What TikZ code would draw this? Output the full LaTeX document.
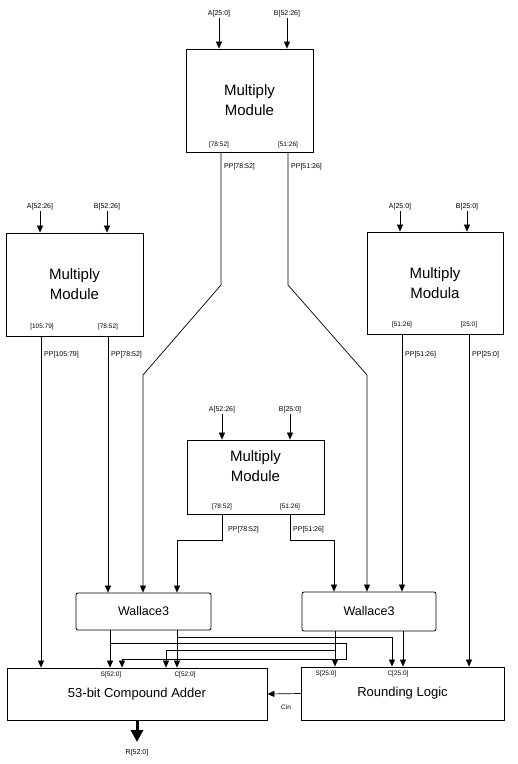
\documentclass[tikz,border=0pt]{standalone}
\usepackage{fontspec}
\setmainfont{Liberation Sans}
\usetikzlibrary{arrows.meta}
\begin{document}
\begin{tikzpicture}[x=1pt,y=-1pt,
  box/.style={draw, line width=0.8pt, inner sep=0pt, align=center},
  wbox/.style={box, rounded corners=2pt},
  arr/.style={line width=0.7pt, -{Triangle[length=7pt,width=6pt]}},
  ln/.style={line width=0.7pt},
  lbl/.style={font=\fontsize{7}{8}\selectfont, inner sep=1pt},
  ilbl/.style={font=\fontsize{6.5}{7.5}\selectfont, inner sep=1pt},
  modtxt/.style={font=\fontsize{15}{20}\selectfont},
  midtxt/.style={font=\fontsize{12.5}{15}\selectfont},
  bigarr/.style={line width=3pt, -{Triangle[length=12pt,width=12pt]}}]
\useasboundingbox (0,0) rectangle (518,764);

% ---------- multiply modules ----------
\node[box,modtxt,minimum width=127pt,minimum height=103pt] (mt) at (249.5,100.5) {Multiply\\Module};
\node[box,modtxt,minimum width=137pt,minimum height=103pt] (ml) at (74.5,284.5) {Multiply\\Module};
\node[box,modtxt,minimum width=136pt,minimum height=102pt] (mr) at (435,283) {Multiply\\Modula};
\node[box,minimum width=137pt,minimum height=74pt] (mm) at (255.5,477) {};
\node[modtxt,align=center] (mmt) at (255.5,466) {Multiply\\Module};

% ---------- input labels ----------
\node[lbl] (ta) at (219,14) {A[25:0]};
\node[lbl] (tb) at (287,14) {B[52:26]};
\node[lbl] (la) at (40,207) {A[52:26]};
\node[lbl] (lb) at (107,207) {B[52:26]};
\node[lbl] (ra) at (400,207) {A[25:0]};
\node[lbl] (rb) at (467,207) {B[25:0]};
\node[lbl] (ma) at (222,410) {A[52:26]};
\node[lbl] (mb) at (290,410) {B[25:0]};

\foreach \l/\m in {ta/mt,tb/mt,la/ml,lb/ml,ra/mr,rb/mr,ma/mm,mb/mm}
  \draw[arr] (\l.south) -- (\l.south |- \m.north);

% ---------- inner output labels ----------
\node[ilbl] (mto1) at (219,145) {[78:52]};
\node[ilbl] (mto2) at (288,145) {[51:26]};
\node[ilbl] (mlo1) at (42,327) {[105:79]};
\node[ilbl] (mlo2) at (108,327) {[78:52]};
\node[ilbl] (mro1) at (402,325) {[51:26]};
\node[ilbl] (mro2) at (469,325) {[25:0]};
\node[ilbl] (mmo1) at (222,507) {[78:52]};
\node[ilbl] (mmo2) at (290,507) {[51:26]};

% ---------- Wallace, adder, rounding ----------
\node[wbox,font=\fontsize{12.5}{15}\selectfont,minimum width=135pt,minimum height=37pt] (wl) at (143.5,611.5) {Wallace3};
\node[wbox,font=\fontsize{12.5}{15}\selectfont,minimum width=134pt,minimum height=39pt] (wr) at (369,611.5) {Wallace3};
\node[box,font=\fontsize{13}{15}\selectfont,minimum width=260pt,minimum height=52pt] (ad) at (137,694) {53-bit Compound Adder};
\node[box,font=\fontsize{13}{15}\selectfont,minimum width=203pt,minimum height=53pt] (rl) at (402.5,693.5) {Rounding Logic};

\node[ilbl] (adl1) at (111,675) {S[52:0]};
\node[ilbl] (adl2) at (185,675) {C[52:0]};
\node[ilbl] (rll1) at (326,674) {S[25:0]};
\node[ilbl] (rll2) at (398,674) {C[25:0]};

% x reference coordinates
\foreach \x in {41,108,110,122,143,166,177,221,222,288,290,334,335,346,367,392,402,403,469}
  \coordinate (x\x) at (\x,0);

% ---------- top module outputs ----------
\coordinate (tL1) at (221,285);
\coordinate (tL2) at (143,375);
\coordinate (tR1) at (288,285);
\coordinate (tR2) at (367,375);
\draw[arr] (mt.south -| x221) -- (tL1) -- (tL2) -- (tL2 |- wl.north);
\draw[arr] (mt.south -| x288) -- (tR1) -- (tR2) -- (tR2 |- wr.north);
\node[lbl,anchor=west] (pt1) at (223,167) {PP[78:52]};
\node[lbl,anchor=west] (pt2) at (290,167) {PP[51:26]};

% ---------- left module outputs ----------
\draw[arr] (ml.south -| x41) -- (ad.north -| x41);
\draw[arr] (ml.south -| x108) -- (wl.north -| x108);
\node[lbl,anchor=west] (pl1) at (43,355) {PP[105:79]};
\node[lbl,anchor=west] (pl2) at (110,355) {PP[78:52]};

% ---------- right module outputs ----------
\draw[arr] (mr.south -| x402) -- (wr.north -| x402);
\draw[arr] (mr.south -| x469) -- (rl.north -| x469);
\node[lbl,anchor=west] (pr1) at (404,355) {PP[51:26]};
\node[lbl,anchor=west] (pr2) at (471,355) {PP[25:0]};

% ---------- middle module outputs ----------
\coordinate (mL1) at (222,540);
\coordinate (mL2) at (177,540);
\coordinate (mR1) at (290,540);
\coordinate (mR2) at (334,540);
\draw[arr] (mm.south -| x222) -- (mL1) -- (mL2) -- (mL2 |- wl.north);
\draw[arr] (mm.south -| x290) -- (mR1) -- (mR2) -- (mR2 |- wr.north);
\node[lbl,anchor=west] (pm1) at (227,530) {PP[78:52]};
\node[lbl,anchor=west] (pm2) at (292,530) {PP[51:26]};

% ---------- Wallace outputs ----------
\draw[arr] (wl.south -| x110) -- (ad.north -| x110);
\draw[arr] (wl.south -| x177) -- (ad.north -| x177);
\draw[arr] (wr.south -| x335) -- (rl.north -| x335);
\draw[arr] (wr.south -| x403) -- (rl.north -| x403);

\coordinate (c1a) at (177,637);
\coordinate (c1b) at (392,637);
\draw[arr] (c1a) -- (c1b) -- (c1b |- rl.north);
\coordinate (c2a) at (110,643);
\coordinate (c2b) at (346,643);
\coordinate (c2c) at (346,659);
\coordinate (c2d) at (122,659);
\draw[arr] (c2a) -- (c2b) -- (c2c) -- (c2d) -- (c2d |- ad.north);
\coordinate (c3a) at (335,650);
\coordinate (c3b) at (166,650);
\draw[arr] (c3a) -- (c3b) -- (c3b |- ad.north);

% ---------- rounding -> adder ----------
\draw[arr] (rl.west) -- (ad.east);
\node[ilbl] (cin) at (286,707) {Cin};

% ---------- result ----------
\coordinate (rs) at (137,742);
\draw[bigarr] (ad.south -| rs) -- (rs);
\node[lbl] (res) at (137,753) {R[52:0]};
\end{tikzpicture}
\end{document}
